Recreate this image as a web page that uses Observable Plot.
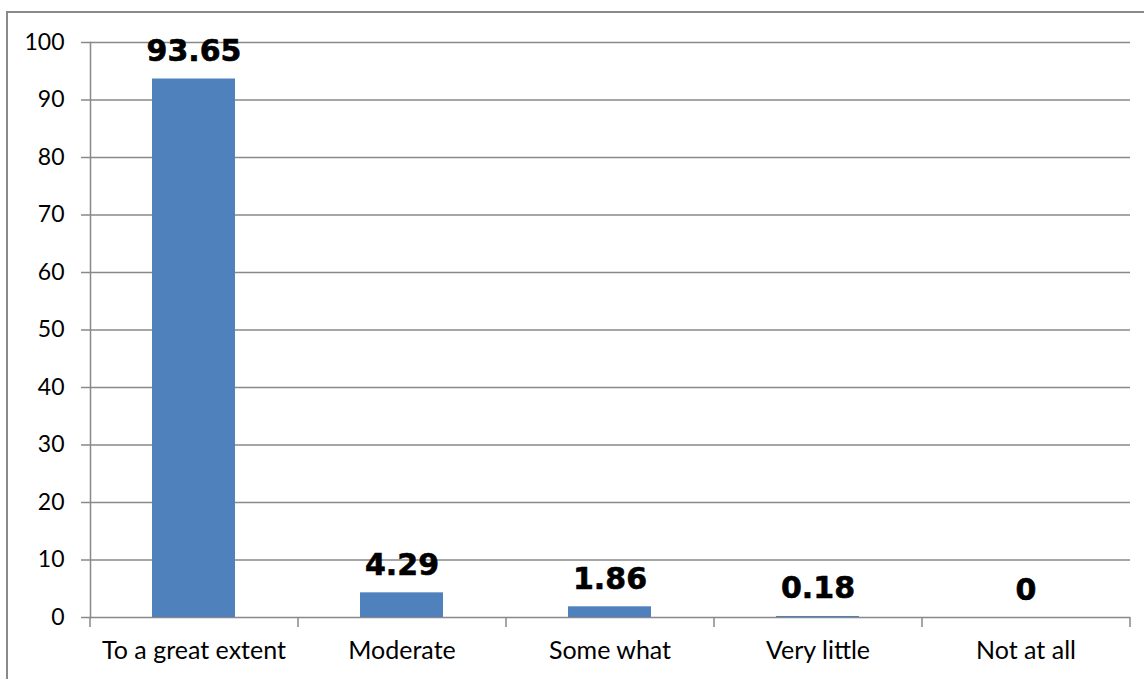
<!DOCTYPE html>
<html><head><meta charset="utf-8">
<script src="https://cdn.jsdelivr.net/npm/d3@7"></script>
<script src="https://cdn.jsdelivr.net/npm/@observablehq/plot@0.6"></script>
<style>
body{margin:0;background:#fff;}
#wrap{position:relative;width:1144px;height:679px;overflow:hidden;background:#fff;}
#border{position:absolute;left:6px;top:11px;width:1200px;height:800px;border-left:2px solid #8a8a8a;border-top:2px solid #8a8a8a;}
#chart{position:absolute;left:0;top:0;}
</style></head><body>
<div id="wrap"><div id="border"></div><div id="chart"></div></div>
<script>
const categories = ["To a great extent", "Moderate", "Some what", "Very little", "Not at all"];
const values = [93.65, 4.29, 1.86, 0.18, 0];
const valueLabels = ["93.65", "4.29", "1.86", "0.18", "0"];
const yTicks = [0, 10, 20, 30, 40, 50, 60, 70, 80, 90, 100];

const data = categories.map((c, i) => ({category: c, value: values[i], label: valueLabels[i]}));
const W = 1144, H = 679, mL = 90, mR = 14;
const step = (W - mL - mR) / categories.length;
const grid = "#898989";

const chart = Plot.plot({
  width: W, height: H,
  marginLeft: mL, marginRight: mR, marginTop: 42, marginBottom: 62,
  style: {fontFamily: "Lato, sans-serif", fontSize: "23px", color: "#000", background: "transparent"},
  x: {domain: categories, paddingInner: 0.6, paddingOuter: 0.3, label: null},
  y: {domain: [0, 100], label: null},
  marks: [
    Plot.gridY(yTicks, {stroke: grid, strokeOpacity: 1, strokeWidth: 1.5}),
    Plot.frame({anchor: "left", stroke: grid, strokeWidth: 1.5}),
    Plot.axisY(yTicks, {tickSize: 9, tickPadding: 17, stroke: grid, strokeWidth: 1.5, fill: "#000", fontSize: 23, label: null}),
    Plot.axisX({tickSize: 10, text: null, dx: -step / 2, stroke: grid, strokeWidth: 1.5, label: null}),
    Plot.axisX([categories[categories.length - 1]], {tickSize: 10, text: null, dx: step / 2, stroke: grid, strokeWidth: 1.5, label: null}),
    Plot.axisX({tickSize: 0, tickPadding: 24, fill: "#000", fontSize: 25, label: null}),
    Plot.barY(data, {x: "category", y: "value", fill: "#4F81BD"}),
    Plot.text(data, {x: "category", y: "value", text: "label", lineAnchor: "bottom", dy: -18,
      fontFamily: "DejaVu Sans", fontWeight: "bold", fontSize: 30, fill: "#000", stroke: "#000", strokeWidth: 0.6})
  ]
});
document.getElementById("chart").appendChild(chart);
</script>
</body></html>
